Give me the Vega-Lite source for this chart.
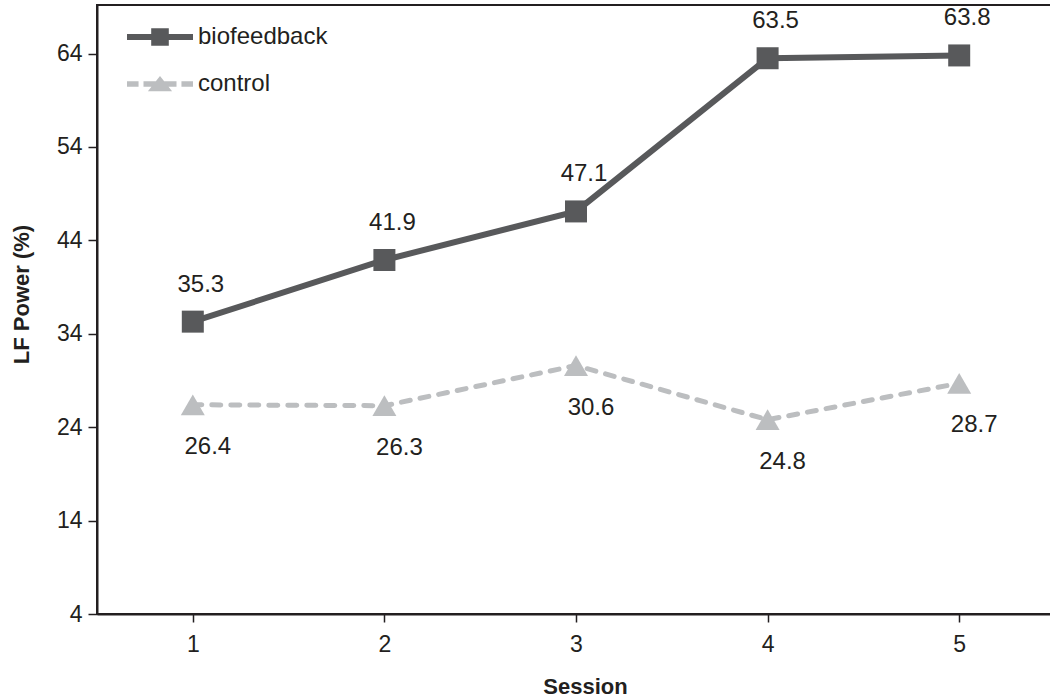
{
  "$schema": "https://vega.github.io/schema/vega-lite/v6.json",
  "autosize": "none",
  "padding": {"left": 97, "top": 5, "right": 0, "bottom": 86},
  "width": 958,
  "height": 609,
  "background": "white",
  "config": {
    "font": "Liberation Sans",
    "view": {"stroke": "#231f20", "strokeWidth": 2},
    "axis": {
      "grid": false,
      "domainColor": "#231f20",
      "domainWidth": 2,
      "tickColor": "#231f20",
      "tickWidth": 1.5,
      "labelColor": "#231f20",
      "labelFont": "Liberation Sans",
      "labelFontSize": 23,
      "titleColor": "#231f20",
      "titleFont": "Liberation Sans",
      "titleFontSize": 22,
      "titleFontWeight": "bold"
    },
    "legend": {
      "labelFont": "Liberation Sans",
      "labelFontSize": 24,
      "labelColor": "#231f20"
    }
  },
  "data": {
    "values": [
      {"session": 1, "group": "biofeedback", "lf": 35.3},
      {"session": 2, "group": "biofeedback", "lf": 41.9},
      {"session": 3, "group": "biofeedback", "lf": 47.1},
      {"session": 4, "group": "biofeedback", "lf": 63.5},
      {"session": 5, "group": "biofeedback", "lf": 63.8},
      {"session": 1, "group": "control", "lf": 26.4},
      {"session": 2, "group": "control", "lf": 26.3},
      {"session": 3, "group": "control", "lf": 30.6},
      {"session": 4, "group": "control", "lf": 24.8},
      {"session": 5, "group": "control", "lf": 28.7}
    ]
  },
  "encoding": {
    "x": {
      "field": "session",
      "type": "quantitative",
      "scale": {"domain": [0.5, 5.5], "nice": false, "zero": false},
      "axis": {
        "title": "Session",
        "values": [1, 2, 3, 4, 5],
        "format": "d",
        "tickSize": 8,
        "labelPadding": 11,
        "labelFontSize": 23,
        "titleX": 488,
        "titleY": 79,
        "titleBaseline": "alphabetic",
        "titleAlign": "center"
      }
    },
    "y": {
      "field": "lf",
      "type": "quantitative",
      "scale": {"domain": [4, 69.2], "nice": false, "zero": false},
      "axis": {
        "title": "LF Power (%)",
        "values": [4, 14, 24, 34, 44, 54, 64],
        "tickSize": 9,
        "labelPadding": 6,
        "labelFontSize": 23,
        "titleAngle": -90,
        "titleX": -76,
        "titleY": 289,
        "titleAlign": "center",
        "titleBaseline": "middle"
      }
    }
  },
  "layer": [
    {
      "transform": [{"filter": "datum.group === 'biofeedback'"}],
      "mark": {"type": "line", "color": "#58595b", "strokeWidth": 6}
    },
    {
      "transform": [{"filter": "datum.group === 'control'"}],
      "mark": {"type": "line", "color": "#bcbec0", "strokeWidth": 5, "strokeDash": [9, 10], "strokeCap": "round"}
    },
    {
      "transform": [{"filter": "datum.group === 'biofeedback'"}],
      "mark": {"type": "point", "filled": true, "opacity": 1, "strokeWidth": 0, "shape": "square", "size": 484},
      "encoding": {
        "color": {
          "field": "group",
          "type": "nominal",
          "scale": {"domain": ["biofeedback"], "range": ["#58595b"]},
          "legend": {
            "title": null,
            "orient": "none",
            "legendX": 51,
            "legendY": 20,
            "padding": 0,
            "symbolType": "M-3,-0.28H3V0.28H-3Z M-0.8,-0.8H0.8V0.8H-0.8Z",
            "symbolSize": 484,
            "symbolStrokeWidth": 0,
            "symbolOpacity": 1,
            "labelOffset": 26
          }
        }
      }
    },
    {
      "transform": [{"filter": "datum.group === 'control'"}],
      "mark": {"type": "point", "filled": true, "opacity": 1, "strokeWidth": 0, "shape": "triangle-up", "size": 576},
      "encoding": {
        "fill": {
          "field": "group",
          "type": "nominal",
          "scale": {"domain": ["control"], "range": ["#bcbec0"]},
          "legend": {
            "title": null,
            "orient": "none",
            "legendX": 51,
            "legendY": 67,
            "padding": 0,
            "symbolType": "M-3,-0.25H-1.95V0.25H-3Z M-1.5,-0.25H1.5V0.25H-1.5Z M1.95,-0.25H3V0.25H1.95Z M0,-0.72L1.1,0.65L-1.1,0.65Z",
            "symbolSize": 484,
            "symbolStrokeWidth": 0,
            "symbolOpacity": 1,
            "labelOffset": 26
          }
        }
      }
    },
    {
      "transform": [{"filter": "datum.group === 'biofeedback'"}],
      "mark": {"type": "text", "fontSize": 24, "font": "Liberation Sans", "color": "#231f20", "baseline": "middle", "dy": -37, "dx": 8},
      "encoding": {"text": {"field": "lf", "type": "quantitative", "format": ".1f"}}
    },
    {
      "transform": [{"filter": "datum.group === 'control'"}],
      "mark": {"type": "text", "fontSize": 24, "font": "Liberation Sans", "color": "#231f20", "baseline": "middle", "dy": 42, "dx": 15},
      "encoding": {"text": {"field": "lf", "type": "quantitative", "format": ".1f"}}
    }
  ]
}
